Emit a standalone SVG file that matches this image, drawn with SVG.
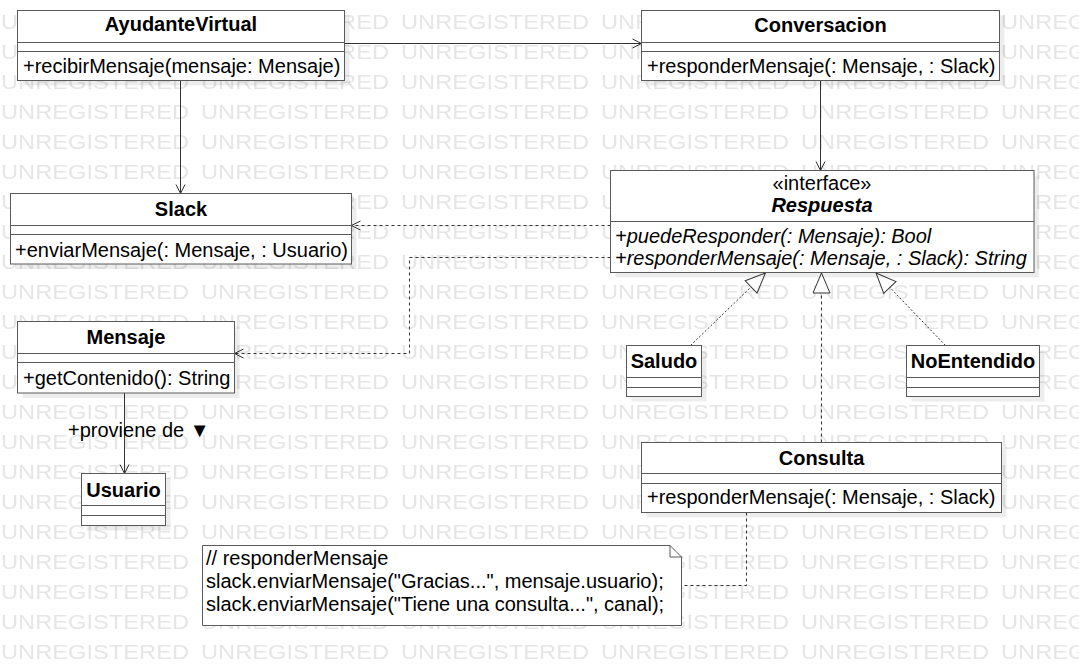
<svg xmlns="http://www.w3.org/2000/svg" width="1079" height="666" viewBox="0 0 1079 666">
<style>
.box{fill:#fff;stroke:#5a5a5a;stroke-width:1}
.sh{fill:#000;fill-opacity:0.07}
.div{stroke:#5a5a5a;stroke-width:1;fill:none}
.name{font-family:"Liberation Sans",Arial,sans-serif;font-size:20px;font-weight:bold;text-anchor:middle;fill:#000}
.txt{font-family:"Liberation Sans",Arial,sans-serif;font-size:20px;fill:#000}
.it{font-style:italic}
.mid{text-anchor:middle}
.conn{stroke:#333;stroke-width:1;fill:none}
.dash{stroke-dasharray:3 3}
.dot{stroke-dasharray:2 2}
.wm{font-family:"Liberation Sans",Arial,sans-serif;font-size:19.5px;fill:#e6e6e6}
</style>
<defs>
<marker id="open" markerUnits="userSpaceOnUse" markerWidth="12" markerHeight="12" refX="9" refY="4.5" orient="auto" overflow="visible">
<path d="M0,0 L9,4.5 L0,9" fill="none" stroke="#333" stroke-width="1"/>
</marker>
<marker id="tri" markerUnits="userSpaceOnUse" markerWidth="22" markerHeight="20" refX="20" refY="8.5" orient="auto" overflow="visible">
<path d="M0,0 L20,8.5 L0,17 Z" fill="#fff" stroke="#333" stroke-width="1"/>
</marker>
<pattern id="wmp" patternUnits="userSpaceOnUse" x="1" y="0" width="200" height="30">
<text class="wm" x="0" y="28.5" textLength="188" lengthAdjust="spacingAndGlyphs">UNREGISTERED</text>
</pattern>
</defs>
<rect x="0" y="0" width="1079" height="666" fill="#fff"/>
<rect id="watermark" x="0" y="0" width="1079" height="666" fill="url(#wmp)"/>

<g id="connectors">
<path class="conn" d="M344.5,43.5 H641.5" marker-end="url(#open)"/>
<path class="conn" d="M180.5,80.5 V193.5" marker-end="url(#open)"/>
<path class="conn" d="M820.5,80.5 V170.5" marker-end="url(#open)"/>
<path class="conn dash" d="M610.5,225.5 H351.5" marker-end="url(#open)"/>
<path class="conn dash" d="M610.5,257.5 H409.5 V353.5 H234.5" marker-end="url(#open)"/>
<path class="conn" d="M124.5,393 V473.5" marker-end="url(#open)"/>
<text class="txt" x="68" y="437">+proviene de ▼</text>
<path class="conn dot" d="M690.5,345.5 L765.5,273" marker-end="url(#tri)"/>
<path class="conn dash" d="M821.5,442.5 V273" marker-end="url(#tri)"/>
<path class="conn dot" d="M945.5,345.5 L876,273" marker-end="url(#tri)"/>
<path class="conn dash" d="M746.5,512.5 V585.5 H681.5"/>
</g>

<g id="AyudanteVirtual">
<rect class="sh" x="22.5" y="15.5" width="327" height="70"/>
<rect class="box" x="17.5" y="10.5" width="327" height="70"/>
<path class="div" d="M17.5,42.5 H344.5 M17.5,51.5 H344.5"/>
<text class="name" x="181" y="31">AyudanteVirtual</text>
<text class="txt" x="23" y="73">+recibirMensaje(mensaje: Mensaje)</text>
</g>

<g id="Conversacion">
<rect class="sh" x="646.5" y="15.5" width="358" height="70"/>
<rect class="box" x="641.5" y="10.5" width="358" height="70"/>
<path class="div" d="M641.5,42.5 H999.5 M641.5,51.5 H999.5"/>
<text class="name" x="820.5" y="32">Conversacion</text>
<text class="txt" x="647" y="73">+responderMensaje(: Mensaje, : Slack)</text>
</g>

<g id="Slack">
<rect class="sh" x="15.5" y="198.5" width="341" height="70.5"/>
<rect class="box" x="10.5" y="193.5" width="341" height="70.5"/>
<path class="div" d="M10.5,225.5 H351.5 M10.5,234.5 H351.5"/>
<text class="name" x="181" y="216">Slack</text>
<text class="txt" x="15" y="257">+enviarMensaje(: Mensaje, : Usuario)</text>
</g>

<g id="Respuesta">
<rect class="sh" x="615.5" y="175.5" width="423.5" height="102"/>
<rect class="box" x="610.5" y="170.5" width="423.5" height="102"/>
<path class="div" d="M610.5,221.5 H1034"/>
<text class="txt mid" x="822" y="190">«interface»</text>
<text class="name it" x="822" y="212">Respuesta</text>
<text class="txt it" x="615" y="243">+puedeResponder(: Mensaje): Bool</text>
<text class="txt it" x="615" y="265">+responderMensaje(: Mensaje, : Slack): String</text>
</g>

<g id="Mensaje">
<rect class="sh" x="22.5" y="326.5" width="217" height="71.5"/>
<rect class="box" x="17.5" y="321.5" width="217" height="71.5"/>
<path class="div" d="M17.5,353.5 H234.5 M17.5,362.5 H234.5"/>
<text class="name" x="126" y="344">Mensaje</text>
<text class="txt" x="23" y="385">+getContenido(): String</text>
</g>

<g id="Usuario">
<rect class="sh" x="86.5" y="478.5" width="84" height="52"/>
<rect class="box" x="81.5" y="473.5" width="84" height="52"/>
<path class="div" d="M81.5,505.5 H165.5 M81.5,515.5 H165.5"/>
<text class="name" x="123.5" y="497">Usuario</text>
</g>

<g id="Saludo">
<rect class="sh" x="631.5" y="350.5" width="75" height="51"/>
<rect class="box" x="626.5" y="345.5" width="75" height="51"/>
<path class="div" d="M626.5,377.5 H701.5 M626.5,387.5 H701.5"/>
<text class="name" x="664" y="368">Saludo</text>
</g>

<g id="NoEntendido">
<rect class="sh" x="911.5" y="350.5" width="133" height="51"/>
<rect class="box" x="906.5" y="345.5" width="133" height="51"/>
<path class="div" d="M906.5,377.5 H1039.5 M906.5,387.5 H1039.5"/>
<text class="name" x="973" y="368">NoEntendido</text>
</g>

<g id="Consulta">
<rect class="sh" x="646.5" y="447.5" width="360" height="70"/>
<rect class="box" x="641.5" y="442.5" width="360" height="70"/>
<path class="div" d="M641.5,473.5 H1001.5 M641.5,483.5 H1001.5"/>
<text class="name" x="821.5" y="465">Consulta</text>
<text class="txt" x="647" y="504">+responderMensaje(: Mensaje, : Slack)</text>
</g>

<g id="Note">
<path class="box" d="M202.5,545.5 H670 L681.5,557 V625.5 H202.5 Z"/>
<path class="div" d="M670,545.5 V557 H681.5"/>
<text class="txt" x="206" y="565">// responderMensaje</text>
<text class="txt" x="206" y="588">slack.enviarMensaje("Gracias...", mensaje.usuario);</text>
<text class="txt" x="206" y="611">slack.enviarMensaje("Tiene una consulta...", canal);</text>
</g>
</svg>
